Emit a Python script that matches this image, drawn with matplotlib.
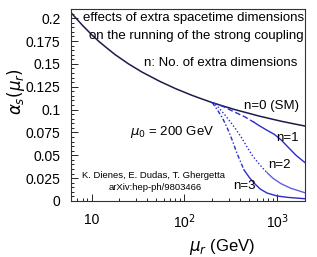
import matplotlib
matplotlib.use("Agg")
import matplotlib.pyplot as plt
from matplotlib.ticker import FixedLocator, FixedFormatter, LogLocator, MultipleLocator, NullFormatter
import numpy as np

# values
mu_sm = [6, 8, 10, 12, 15, 18, 25, 35, 54, 80, 120, 150, 200, 250, 350, 500, 640,
         800, 1100, 1500, 2000]
alpha_sm = [0.206, 0.192, 0.182, 0.1745, 0.1664, 0.160, 0.150, 0.141, 0.131, 0.123,
            0.1157, 0.1121, 0.1076, 0.1045, 0.100, 0.0958, 0.0929, 0.0906, 0.0873,
            0.0845, 0.082]

mu_n1 = [200, 260, 345, 450, 566, 640, 760, 930, 1100, 1340, 1600, 2000]
alpha_n1 = [0.1076, 0.1035, 0.0975, 0.092, 0.086, 0.0825, 0.078, 0.073, 0.067, 0.058,
            0.050, 0.042]

mu_n2 = [200, 226, 280, 345, 410, 475, 540, 610, 700, 780, 900, 1100, 1400, 2000]
alpha_n2 = [0.1076, 0.104, 0.093, 0.081, 0.070, 0.059, 0.050, 0.043, 0.036, 0.031,
            0.025, 0.019, 0.014, 0.009]

mu_n3 = [200, 226, 260, 290, 330, 370, 440, 500, 560, 660, 780, 1000, 1290, 2000]
alpha_n3 = [0.1076, 0.100, 0.090, 0.080, 0.066, 0.052, 0.034, 0.026, 0.020, 0.013,
            0.0087, 0.0055, 0.0040, 0.0025]

yticks = [0, 0.025, 0.05, 0.075, 0.1, 0.125, 0.15, 0.175, 0.2]
ytick_labels = ["0", "0.025", "0.05", "0.075", "0.1", "0.125", "0.15", "0.175", "0.2"]
xticks = [10, 100, 1000]
xtick_labels = ["10", r"10$^{2}$", r"10$^{3}$"]

plt.rcParams['font.family'] = ['Liberation Sans', 'DejaVu Sans']

W, H = 317, 257
fig = plt.figure(figsize=(W / 100, H / 100), dpi=100)
ax = fig.add_axes([71 / W, 1 - 201 / H, (305 - 71) / W, (201 - 9) / H])

navy = '#1c1c4a'
blue = '#2b2bd0'


def split_plot(mu, alpha, cut, style, tail_alpha=1.0):
    mu = np.array(mu)
    alpha = np.array(alpha)
    a = mu <= cut
    b = mu >= cut
    ax.plot(mu[a], alpha[a], color=blue, lw=1.0, ls=style)
    ax.plot(mu[b], alpha[b], color=blue, lw=1.0, ls='-', alpha=tail_alpha)


ax.plot(mu_sm, alpha_sm, color=navy, lw=1.1)
split_plot(mu_n1, alpha_n1, 566, (0, (4, 2)))
split_plot(mu_n2, alpha_n2, 780, (0, (1, 1.5)), 0.75)
split_plot(mu_n3, alpha_n3, 440, (0, (3, 1.5, 1, 1.5)))

ax.set_xscale('log')
ax.set_xlim(6, 2000)
ax.set_ylim(0, 0.21)

ax.xaxis.set_major_locator(FixedLocator(xticks))
ax.xaxis.set_major_formatter(FixedFormatter(xtick_labels))
ax.xaxis.set_minor_locator(LogLocator(base=10, subs=np.arange(2, 10)))
ax.xaxis.set_minor_formatter(NullFormatter())
ax.yaxis.set_major_locator(FixedLocator(yticks))
ax.yaxis.set_major_formatter(FixedFormatter(ytick_labels))
ax.yaxis.set_minor_locator(MultipleLocator(0.005))

ax.tick_params(which='both', direction='in', top=False, right=False, labelsize=10)
ax.tick_params(which='major', length=5, width=0.6)
ax.tick_params(which='minor', length=2.5, width=0.6)
ax.tick_params(axis='x', pad=8.5)
ax.tick_params(axis='y', pad=7.5)
for s in ax.spines.values():
    s.set_linewidth(0.8)
    s.set_color('#333333')

ax.set_ylabel(r'$\alpha_{s}(\mu_{r})$', fontsize=12)
ax.yaxis.set_label_coords(-0.19, 0.57)
ax.set_xlabel(r'$\mu_{r}$ (GeV)', fontsize=12)
ax.xaxis.set_label_coords(0.645, -0.185)


def ftext(x, y, s, size, ha='left'):
    fig.text(x / W, 1 - y / H, s, fontsize=size, ha=ha, va='center')


ftext(304, 18, "effects of extra spacetime dimensions", 9.5, 'right')
ftext(304, 36, "on the running of the strong coupling", 9.5, 'right')
ftext(297, 63, "n: No. of extra dimensions", 9.5, 'right')
ftext(299, 106, "n=0 (SM)", 9.5, 'right')
ftext(130, 132, r"$\mu_0$ = 200 GeV", 9.5)
ftext(299, 138, "n=1", 9.5, 'right')
ftext(268, 165, "n=2", 9.5)
ftext(233, 186, "n=3", 9.5)
ftext(153, 175, "K. Dienes, E. Dudas, T. Ghergetta", 6.8, 'center')
ftext(155, 187, "arXiv:hep-ph/9803466", 6.8, 'center')

fig.savefig("out.png", dpi=100)
